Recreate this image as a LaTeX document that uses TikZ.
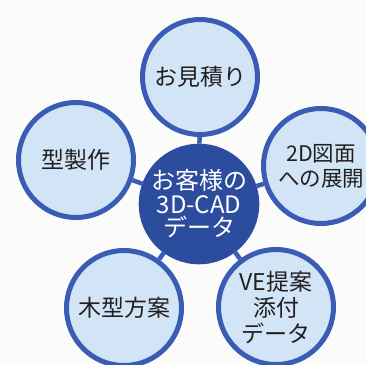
\documentclass[tikz,border=0pt]{standalone}
\usepackage{fontspec}
\setmainfont{Noto Sans CJK JP}
\definecolor{ringblue}{HTML}{3A5CB4}
\definecolor{coreblue}{HTML}{2C4C9E}
\definecolor{palefill}{HTML}{D2E5F6}
\definecolor{inktext}{HTML}{231F20}
\definecolor{paper}{HTML}{FBFBFA}
\tikzset{
  outerc/.style={circle, draw=ringblue, line width=5pt, fill=palefill,
    minimum size=115pt, inner sep=0pt, align=center, text=inktext,
    font=\fontsize{23}{26}\selectfont},
  corec/.style={circle, draw=coreblue, line width=3pt, fill=coreblue,
    minimum size=117pt, inner sep=0pt, align=center, text=white,
    font=\fontsize{24}{23.5}\selectfont},
  linkline/.style={draw=ringblue, line width=4.5pt}
}
\begin{document}
\begin{tikzpicture}[x=1pt,y=-1pt]
\useasboundingbox (0,0) rectangle (366,364);
\fill[paper] (0,0) rectangle (366,364);
\clip (0,0) rectangle (366,364);
\node[corec] (core) at (199,204) {お客様の\\3D-CAD\\データ};
\node[outerc] (top) at (200,77) {お見積り};
\node[outerc] (left) at (76,160) {型製作};
\node[outerc, font=\fontsize{21.5}{25}\selectfont] (right) at (321,166) {2D図面\\への展開};
\node[outerc] (bl) at (124,308) {木型方案};
\node[outerc] (br) at (276,307) {VE提案\\添付\\データ};
\draw[linkline] (core) -- (top);
\draw[linkline] (core) -- (left);
\draw[linkline] (core) -- (right);
\draw[linkline] (core) -- (bl);
\draw[linkline] (core) -- (br);
\end{tikzpicture}
\end{document}
